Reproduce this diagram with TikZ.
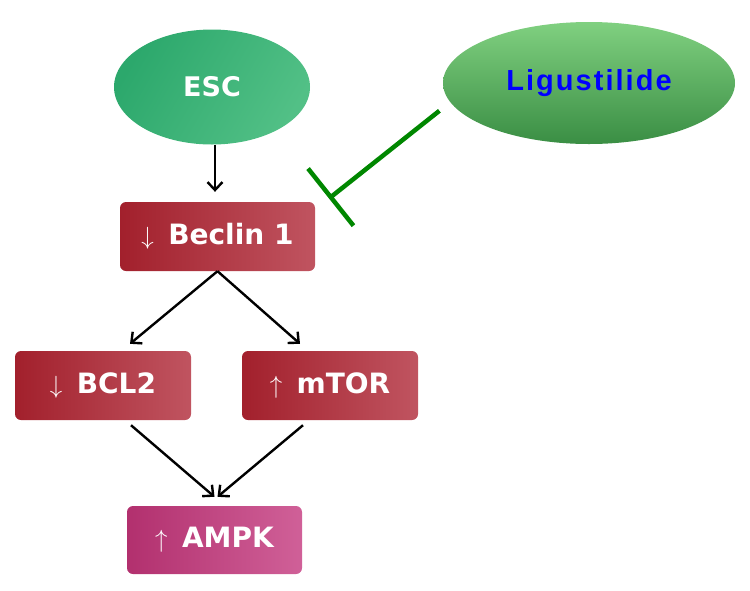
\documentclass[tikz,border=0pt]{standalone}
\usepackage{fontspec}
\usepackage{tikz}
\usetikzlibrary{arrows.meta}
\usetikzlibrary{shapes.geometric}
\setmainfont{DejaVu Sans}
\newfontfamily\ligfont[LetterSpace=7]{Liberation Sans}
\definecolor{escA}{RGB}{44,168,108}
\definecolor{escB}{RGB}{82,192,134}
\definecolor{ligA}{RGB}{128,208,128}
\definecolor{ligB}{RGB}{58,142,68}
\definecolor{redA}{RGB}{162,32,44}
\definecolor{redB}{RGB}{192,84,96}
\definecolor{pinkA}{RGB}{178,48,110}
\definecolor{pinkB}{RGB}{208,96,152}
\definecolor{inhgreen}{RGB}{0,135,0}

\begin{document}
\begin{tikzpicture}[x=1pt,y=-1pt,
	box/.style={rectangle,rounded corners=6pt,left color=redA,right color=redB,text=white,font=\fontsize{28}{32}\selectfont\bfseries,minimum width=176pt,minimum height=69pt,inner sep=0pt},
	kinase/.style={box,left color=pinkA,right color=pinkB},
	blob/.style={ellipse,inner sep=0pt},
	arr/.style={-{Straight Barb[length=8pt,width=15pt,line width=2.4pt]},line width=2.4pt,black},
	inh/.style={-{Bar[width=73pt,line width=4.5pt]},line width=4.5pt,inhgreen}]
	
	\useasboundingbox (0,0) rectangle (750,590);
	
	\node[blob,left color=escA,right color=escB,shading angle=60,minimum width=196pt,minimum height=115pt,text=white,font=\fontsize{27}{30}\selectfont\bfseries] (esc) at (212,87) {ESC};
	\node[blob,top color=ligA,bottom color=ligB,minimum width=292pt,minimum height=122pt,text=blue,font=\ligfont\fontsize{29}{32}\selectfont\bfseries] (lig) at (589,83) {Ligustilide};
	
	\node[box,minimum width=195pt] (beclin) at (217.5,236.5) {$\downarrow$\, Beclin 1};
	\node[box] (bcl2) at (103,385.5) {$\downarrow$\, BCL2};
	\node[box] (mtor) at (330,385.5) {$\uparrow$\, mTOR};
	\node[kinase,minimum width=175pt,minimum height=68pt] (ampk) at (214.5,540) {$\uparrow$\, AMPK};
	
	\coordinate (block) at (329,198.5);
	
	\draw[arr] ([xshift=3pt]esc.south) -- ([xshift=-2.5pt,yshift=10pt]beclin.north);
	\draw[arr] (beclin.south) -- ([xshift=27pt,yshift=7pt]bcl2.north);
	\draw[arr] (beclin.south) -- ([xshift=-30pt,yshift=7pt]mtor.north);
	\draw[arr] ([xshift=28pt,yshift=-5pt]bcl2.south) -- ([yshift=9pt]ampk.north);
	\draw[arr] ([xshift=-27pt,yshift=-5pt]mtor.south) -- ([xshift=3pt,yshift=9pt]ampk.north);
	\draw[inh] ([xshift=-17pt,yshift=-2pt]lig.191) -- (block);
\end{tikzpicture}
\end{document}
